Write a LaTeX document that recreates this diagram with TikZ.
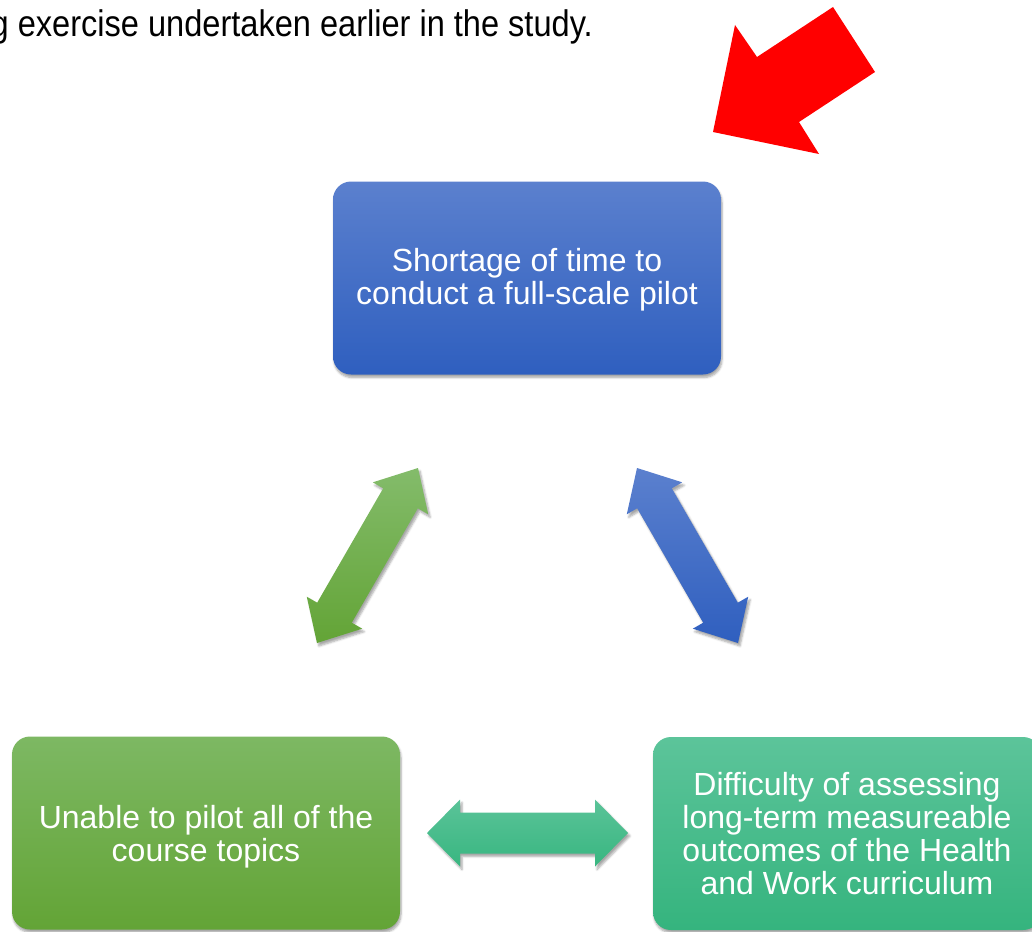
\documentclass[tikz,border=0pt]{standalone}
\usepackage{graphicx}
\usepackage{fontspec}
\setmainfont{Liberation Sans}
\usetikzlibrary{calc,shadows.blur}
\definecolor{blueTop}{HTML}{5B80CE}
\definecolor{blueBot}{HTML}{2F5FBF}
\definecolor{greenTop}{HTML}{7DB863}
\definecolor{greenBot}{HTML}{63A436}
\definecolor{tealTop}{HTML}{5CC49A}
\definecolor{tealBot}{HTML}{35B47E}
\definecolor{tealArr}{HTML}{47BE8A}
\definecolor{redArr}{HTML}{FF0000}
% #1 prefix, #2 tip A, #3 tip B, #4 head length, #5 head half width, #6 shaft half width
\newcommand\mkdblarrow[6]{%
  \path ($(#2)!#4!(#3)$) coordinate (#1p) ($(#3)!#4!(#2)$) coordinate (#1q);
  \path ($(#1p)!#5!90:(#3)$) coordinate (#1p1) ($(#1p)!#5!-90:(#3)$) coordinate (#1p2)
        ($(#1p)!#6!90:(#3)$) coordinate (#1p3) ($(#1p)!#6!-90:(#3)$) coordinate (#1p4)
        ($(#1q)!#5!-90:(#2)$) coordinate (#1q1) ($(#1q)!#5!90:(#2)$) coordinate (#1q2)
        ($(#1q)!#6!-90:(#2)$) coordinate (#1q3) ($(#1q)!#6!90:(#2)$) coordinate (#1q4);
}
\newcommand\drawdblarrow[4]{% #1 prefix, #2 tipA, #3 tipB, #4 style
  \path[#4] (#2) -- (#1p1) -- (#1p3) -- (#1q3) -- (#1q1) -- (#3) -- (#1q2) -- (#1q4) -- (#1p4) -- (#1p2) -- cycle;
}
\begin{document}
\begin{tikzpicture}[x=1pt,y=-1pt,
  box/.style={rectangle, rounded corners=18pt, minimum width=388pt, minimum height=193pt,
    text=white, align=center, inner sep=0pt, font=\fontsize{32}{33}\selectfont,
    blur shadow={shadow xshift=1pt, shadow yshift=-3pt, shadow blur steps=6, shadow opacity=35}},
  arrowshade/.style={blur shadow={shadow xshift=2pt, shadow yshift=-3pt, shadow blur steps=5, shadow opacity=35}}]
\useasboundingbox (0,0) rectangle (1032,931);
\clip (0,0) rectangle (1032,931);

% caption line (its first letter is cut by the left edge, as in the reference)
\node[anchor=base east, inner sep=0pt, font=\fontsize{37}{40}\selectfont] (cap) at (593,37)
  {\scalebox{0.88}[1]{g exercise undertaken earlier in the study.}};

% red arrow
\fill[redArr] (713,132) -- (735,25) -- (757,57) -- (833,7) -- (875,72) -- (799,122) -- (819,154) -- cycle;

% boxes
\node[box, top color=blueTop, bottom color=blueBot] (top) at (527,278)
  {\rule{0pt}{27pt}Shortage of time to\\conduct a full-scale pilot};
\node[box, top color=greenTop, bottom color=greenBot] (left) at (206,833)
  {\rule{0pt}{31pt}Unable to pilot all of the\\course topics};
\node[box, top color=tealTop, bottom color=tealBot] (right) at (847,833.5)
  {Difficulty of assessing\\long-term measureable\\outcomes of the Health\\and Work curriculum};

% double arrows
\coordinate (g1) at (317,643);
\coordinate (g2) at (418,468);
\coordinate (b1) at (637,468);
\coordinate (b2) at (738,643);
\coordinate (t1) at (427,833);
\coordinate (t2) at (628,833);
\mkdblarrow{g}{g1}{g2}{35pt}{32pt}{20pt}
\mkdblarrow{b}{b1}{b2}{35pt}{32pt}{20pt}
\mkdblarrow{t}{t1}{t2}{33pt}{33.5pt}{20.5pt}
\drawdblarrow{g}{g1}{g2}{arrowshade, top color=greenTop!95!white, bottom color=greenBot}
\drawdblarrow{b}{b1}{b2}{arrowshade, top color=blueTop, bottom color=blueBot}
\drawdblarrow{t}{t1}{t2}{arrowshade, top color=tealTop!90!tealArr, bottom color=tealBot!80!tealArr}
\end{tikzpicture}
\end{document}
